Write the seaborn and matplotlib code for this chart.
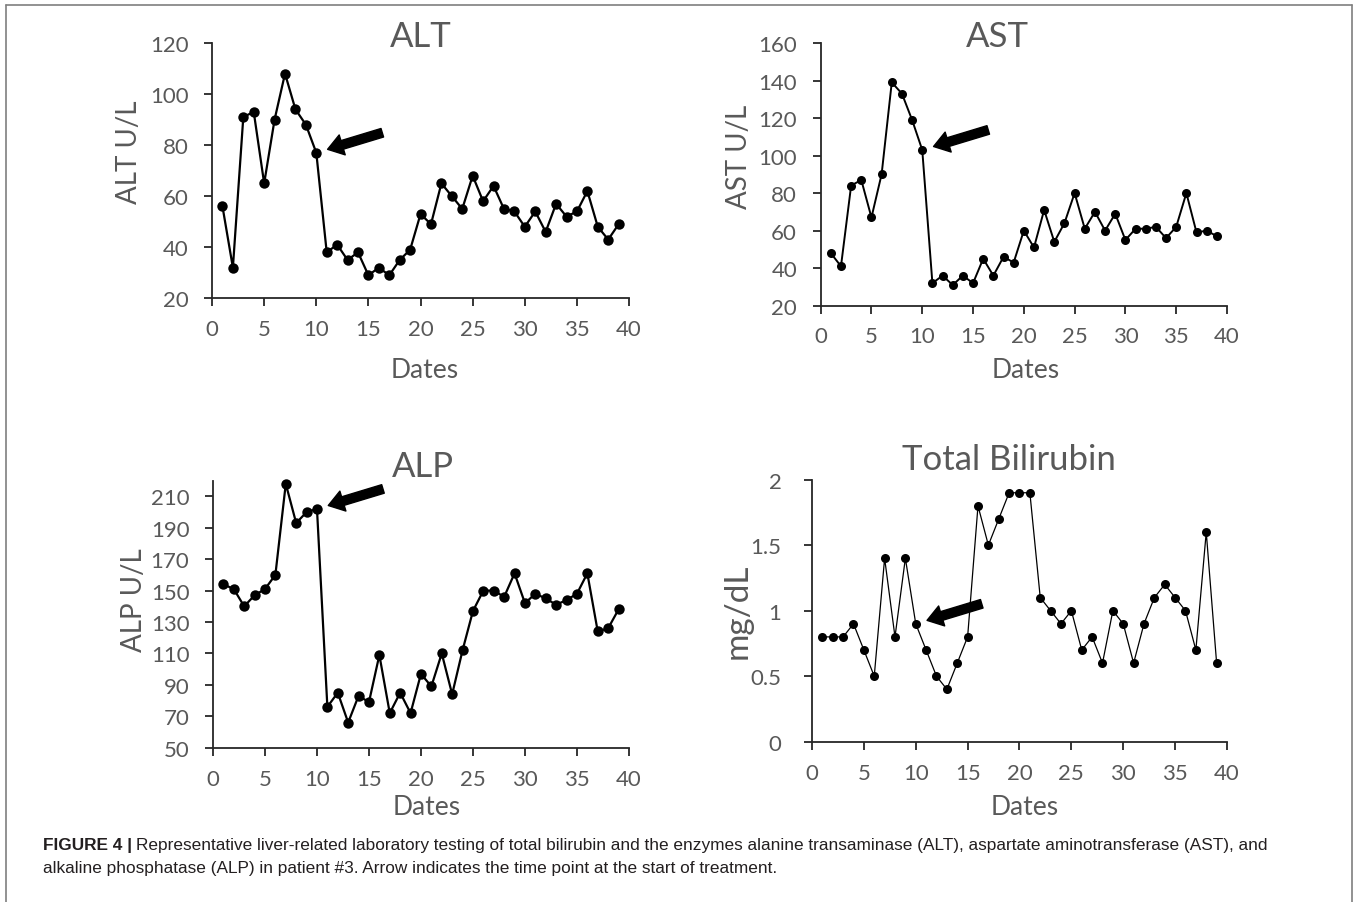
import numpy as np
import pandas as pd
import seaborn as sb
import matplotlib.pyplot as plt

sb.set_theme(style="white")
plt.rcParams['font.family'] = ['Lato', 'DejaVu Sans']

dates = list(range(1, 40))

alt = [56, 32, 91, 93, 65, 90, 108, 94, 88, 77,
       38, 41, 35, 38, 29, 32, 29, 35, 39, 53,
       49, 65, 60, 55, 68, 58, 64, 55, 54, 48,
       54, 46, 57, 52, 54, 62, 48, 43, 49]

ast = [48, 41, 84, 87, 67, 90, 139, 133, 119, 103,
       32, 36, 31, 36, 32, 45, 36, 46, 43, 60,
       51, 71, 54, 64, 80, 61, 70, 60, 69, 55,
       61, 61, 62, 56, 62, 80, 59, 60, 57]

alp = [154, 151, 140, 147, 151, 160, 218, 193, 200, 202,
       76, 85, 66, 83, 79, 109, 72, 85, 72, 97,
       89, 110, 84, 112, 137, 150, 150, 146, 161, 142,
       148, 145, 141, 144, 148, 161, 124, 126, 138]

bili = [0.8, 0.8, 0.8, 0.9, 0.7, 0.5, 1.4, 0.8, 1.4, 0.9,
        0.7, 0.5, 0.4, 0.6, 0.8, 1.8, 1.5, 1.7, 1.9, 1.9,
        1.9, 1.1, 1.0, 0.9, 1.0, 0.7, 0.8, 0.6, 1.0, 0.9,
        0.6, 0.9, 1.1, 1.2, 1.1, 1.0, 0.7, 1.6, 0.6]

treat_day = 10
xticks = [0, 5, 10, 15, 20, 25, 30, 35, 40]

grey = '#595959'

fig = plt.figure(figsize=(13.54, 9.03), dpi=100)

# panel boxes (left, bottom, width, height) in figure fractions
panels = [
    dict(name='ALT', y=alt, rect=[0.1566, 0.6686, 0.3080, 0.2827], ylim=(20, 120),
         yticks=[20, 40, 60, 80, 100, 120], ylabel='ALT U/L', lw=1.6, ms=7.5,
         title_xy=(0.50, 1.027), ylab_xy=(-0.168, 0.577), xlab_xy=(0.51, -0.23),
         ylab_size=20, ypad=11),
    dict(name='AST', y=ast, rect=[0.6061, 0.6604, 0.3001, 0.2909], ylim=(20, 160),
         yticks=[20, 40, 60, 80, 100, 120, 140, 160], ylabel='AST U/L', lw=1.4, ms=6.5,
         title_xy=(0.434, 1.027), ylab_xy=(-0.169, 0.57), xlab_xy=(0.505, -0.195),
         ylab_size=20, ypad=11),
    dict(name='ALP', y=alp, rect=[0.1573, 0.1709, 0.3072, 0.2957], ylim=(50, 220),
         yticks=[50, 70, 90, 110, 130, 150, 170, 190, 210], ylabel='ALP U/L', lw=1.6, ms=7.5,
         title_xy=(0.505, 1.055), ylab_xy=(-0.159, 0.557), xlab_xy=(0.514, -0.173),
         ylab_size=20, ypad=11),
    dict(name='Total Bilirubin', y=bili, rect=[0.5997, 0.1775, 0.3065, 0.2902], ylim=(0, 2),
         yticks=[0, 0.5, 1, 1.5, 2], ylabel='mg/dL', lw=0.9, ms=6.5,
         title_xy=(0.475, 1.079), ylab_xy=(-0.142, 0.503), xlab_xy=(0.513, -0.2),
         ylab_size=24, ypad=16),
]

for p in panels:
    ax = fig.add_axes(p['rect'])
    df = pd.DataFrame({'Dates': dates, 'val': p['y']})
    sb.lineplot(data=df, x='Dates', y='val', ax=ax, color='black', linewidth=p['lw'],
                marker='o', markersize=p['ms'], markeredgewidth=0, clip_on=False)
    ax.set_xlim(0, 40)
    ax.set_ylim(*p['ylim'])
    ax.set_xticks(xticks)
    ax.set_yticks(p['yticks'])
    ax.set_yticklabels([('%g' % t) for t in p['yticks']])
    sb.despine(ax=ax)
    for s in ['left', 'bottom']:
        ax.spines[s].set_color('#262626')
        ax.spines[s].set_linewidth(1.3)
    ax.tick_params(axis='both', direction='out', length=6, width=1.3, color='#262626',
                   labelsize=16, labelcolor=grey, left=True, bottom=True)
    ax.tick_params(axis='x', pad=9)
    ax.tick_params(axis='y', pad=p['ypad'])
    ax.set_xlabel('Dates', fontsize=19, color=grey)
    ax.xaxis.set_label_coords(*p['xlab_xy'])
    ax.set_ylabel(p['ylabel'], fontsize=p['ylab_size'], color=grey)
    ax.yaxis.set_label_coords(*p['ylab_xy'])
    ax.text(p['title_xy'][0], p['title_xy'][1], p['name'], transform=ax.transAxes,
            ha='center', va='center', fontsize=25, color=grey)
    ax.patch.set_alpha(0)

    # arrow pointing at the start of treatment
    ax.annotate('', xy=(treat_day, p['y'][treat_day - 1]), xycoords='data',
                xytext=(66, 20), textcoords='offset pixels',
                arrowprops=dict(arrowstyle='simple,head_length=0.55,head_width=0.75,tail_width=0.32',
                                mutation_scale=20, color='black', shrinkA=0, shrinkB=8.5))

# frame around the figure image
fig.add_artist(plt.Line2D([6 / 1354, 6 / 1354], [0, 1 - 6 / 903], color='#7f7f7f', lw=1.2))
fig.add_artist(plt.Line2D([6 / 1354, 1352 / 1354], [1 - 6 / 903, 1 - 6 / 903], color='#7f7f7f', lw=1.2))
fig.add_artist(plt.Line2D([1352 / 1354, 1352 / 1354], [0, 1 - 6 / 903], color='#7f7f7f', lw=1.2))

cap_font = ['Liberation Sans', 'DejaVu Sans']
t1 = fig.text(43 / 1354, 1 - 846 / 903, 'FIGURE 4 |', fontsize=12.4, fontweight='bold',
              family=cap_font, va='center', color='#231f20')
fig.canvas.draw()
bb = t1.get_window_extent()
fig.text((bb.x1 + 4) / 1354, 1 - 846 / 903,
         'Representative liver-related laboratory testing of total bilirubin and the enzymes alanine '
         'transaminase (ALT), aspartate aminotransferase (AST), and',
         fontsize=12.4, family=cap_font, va='center', color='#231f20')
fig.text(43 / 1354, 1 - 869 / 903,
         'alkaline phosphatase (ALP) in patient #3. Arrow indicates the time point at the start of treatment.',
         fontsize=12.4, family=cap_font, va='center', color='#231f20')

plt.savefig('out.png', dpi=100)
